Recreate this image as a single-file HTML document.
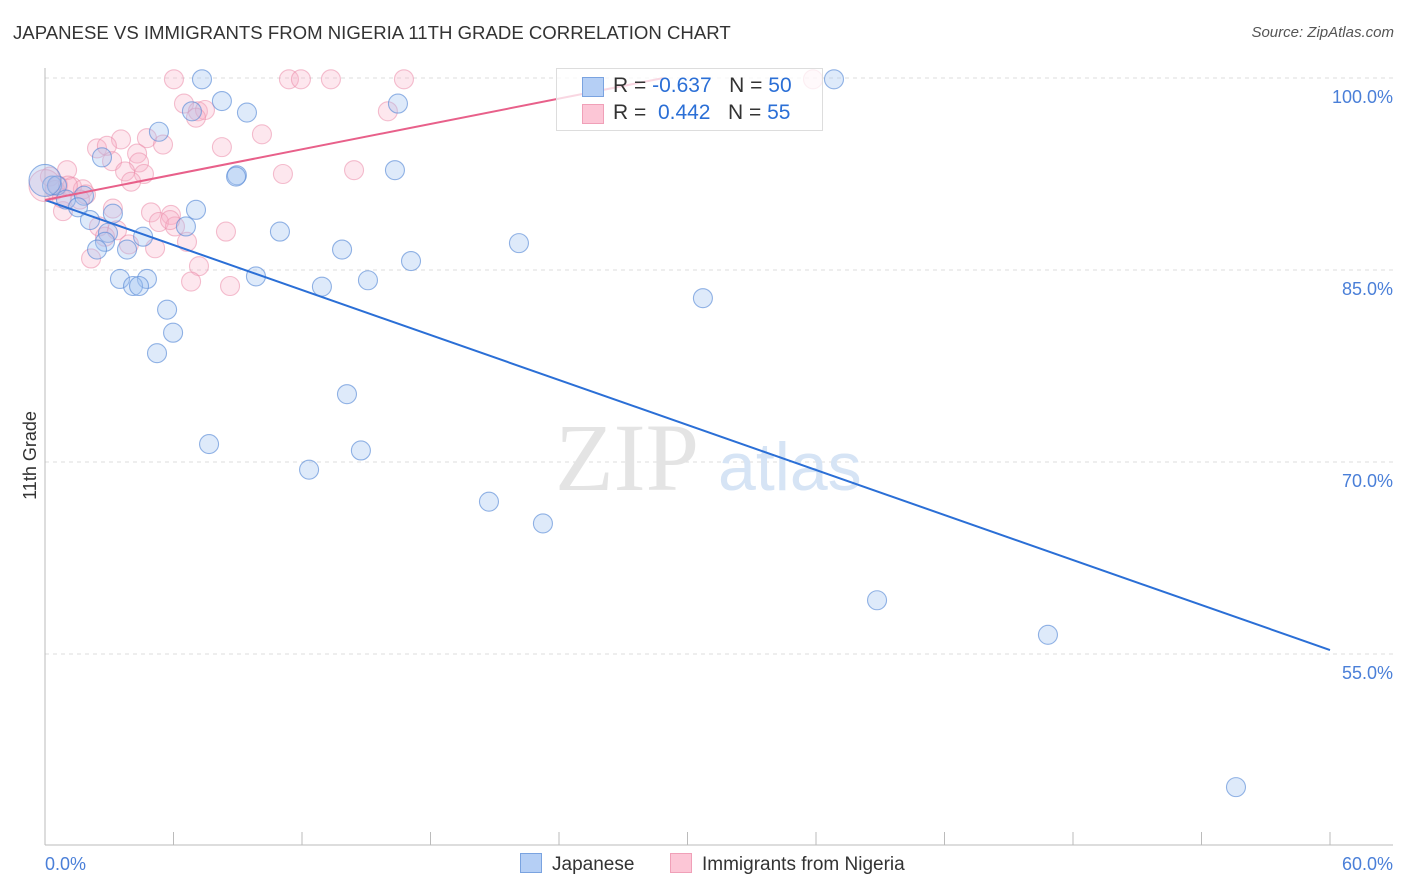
<!DOCTYPE html>
<html><head><meta charset="utf-8"><style>
body{margin:0;background:#fff;font-family:"Liberation Sans",sans-serif;}
#wrap{position:relative;width:1406px;height:892px;overflow:hidden;}
.t{position:absolute;white-space:nowrap;}
</style></head><body>
<div id="wrap">
<div class="t" style="left:13px;top:22px;font-size:18.6px;color:#333;">JAPANESE VS IMMIGRANTS FROM NIGERIA 11TH GRADE CORRELATION CHART</div>
<div class="t" style="right:12px;top:24px;font-size:15px;color:#555;font-style:italic;">Source: ZipAtlas.com</div>
<div class="t" style="left:-14px;top:445px;font-size:18px;color:#333;transform:rotate(-90deg);">11th Grade</div>
<svg id="svg" width="1406" height="892" style="position:absolute;left:0;top:0"></svg>
</div>
<script>
const yTicks=[100,85,70,55];
const yTickLabels=["100.0%","85.0%","70.0%","55.0%"];
const xLabels=["0.0%","60.0%"];
const japX=[7.33,36.84,8.26,16.48,6.86,9.43,5.32,2.66,16.34,8.96,8.92,0.33,0.56,0.98,1.82,1.54,3.17,7.05,2.10,6.58,10.97,2.94,4.58,2.80,22.13,2.43,3.83,13.87,17.09,3.50,4.76,9.85,15.08,4.11,4.39,12.93,30.72,5.70,5.98,5.23,14.10,7.66,14.75,12.33,20.73,23.25,38.85,46.83,55.61,0];
const japY=[99.9,99.9,98.2,98.0,97.4,97.3,95.8,93.8,92.8,92.4,92.3,91.6,91.6,90.5,90.8,89.9,89.4,89.7,88.9,88.4,88.0,87.9,87.6,87.2,87.1,86.6,86.6,86.6,85.7,84.3,84.3,84.5,84.2,83.75,83.75,83.7,82.8,81.9,80.1,78.5,75.3,71.4,70.9,69.4,66.9,65.2,59.2,56.5,44.6,92.0];
const nigX=[6.02,11.39,11.95,13.35,16.76,35.86,6.49,7.14,7.47,7.05,16.01,10.13,3.55,4.76,2.43,2.89,5.51,8.26,4.30,3.13,4.39,3.74,1.03,4.62,14.43,11.11,4.02,0.23,0.61,1.26,1.77,1.91,0.47,0.84,4.95,5.88,3.36,8.45,2.52,5.32,6.07,6.63,3.92,5.14,2.15,7.19,6.82,8.64,1.63,0,0.79,3.17,5.84,2.80,1.07];
const nigY=[99.9,99.9,99.9,99.9,99.9,99.9,98.0,97.4,97.5,96.9,97.4,95.6,95.2,95.3,94.5,94.7,94.8,94.6,94.1,93.5,93.4,92.7,92.8,92.5,92.8,92.5,91.9,92.3,91.6,91.5,91.3,90.9,91.25,89.6,89.5,89.3,88.1,88.0,88.4,88.75,88.4,87.2,87.0,86.7,85.9,85.3,84.1,83.75,90.5,91.6,90.6,89.8,88.9,87.6,91.6];
const japFit=[90.47,-0.586];
const nigFit=[90.47,0.33];
const sx=v=>45+v*1285/60, sy=v=>78+(100-v)*192/15;
const svg=document.getElementById('svg');const NS='http://www.w3.org/2000/svg';
function mk(t,a,p){const e=document.createElementNS(NS,t);for(const k in a)e.setAttribute(k,a[k]);(p||svg).appendChild(e);return e;}
yTicks.forEach((v,i)=>{const l=mk('line',{x1:45,x2:1393,y1:sy(v),y2:sy(v),stroke:'#ddd','stroke-dasharray':'4,4'});


const t=mk('text',{x:1393,y:sy(v)+25,'text-anchor':'end','font-size':18,fill:'#4a7fd8','font-family':'Liberation Sans'});t.textContent=yTickLabels[i];

});
mk('line',{x1:45,x2:45,y1:68,y2:845,stroke:'#bbb'});
mk('line',{x1:45,x2:1393,y1:845,y2:845,stroke:'#bbb'});
for(let i=0;i<=10;i++){const t=mk('line',{x1:sx(i*6),x2:sx(i*6),y1:832,y2:845,stroke:'#bbb'});

}
[[0,'start',45],[60,'end',1393]].forEach((d,i)=>{const t=mk('text',{x:d[2],y:870,'text-anchor':d[1],'font-size':18,fill:'#4a7fd8','font-family':'Liberation Sans'});t.textContent=xLabels[i];

});
const wm=mk('text',{x:555,y:490,'font-size':96,fill:'#e4e4e4','font-family':'Liberation Serif'});wm.textContent='ZIP';


const wm2=mk('text',{x:718,y:490,'font-size':68,fill:'#d6e4f5','font-family':'Liberation Sans'});wm2.textContent='atlas';


function pts(X,Y,fill,stroke,name){X.forEach((x,i)=>{const big=(x===0);const c=mk('circle',{cx:sx(x),cy:sy(Y[i]),r:big?16:9.5,fill:fill,stroke:stroke,'stroke-width':1.1});

});}
pts(nigX,nigY,'rgba(248,175,198,0.3)','rgba(235,140,170,0.55)','nigeria-point');
pts(japX,japY,'rgba(160,196,240,0.35)','rgba(90,140,215,0.65)','japanese-point');
const jl=mk('line',{x1:sx(0),y1:sy(japFit[0]),x2:sx(60),y2:sy(japFit[0]+japFit[1]*60),stroke:'#2b6fd6','stroke-width':2});


const xe=(100-nigFit[0])/nigFit[1];
const nl=mk('line',{x1:sx(0),y1:sy(nigFit[0]),x2:sx(xe),y2:sy(100),stroke:'#e8608a','stroke-width':2});


</script>
<div style="position:absolute;left:556px;top:68px;width:265px;height:61px;border:1px solid #ddd;background:rgba(255,255,255,0.75);font-size:21px;">
<div style="position:absolute;left:25px;top:8px;width:20px;height:18px;background:#b5cff5;border:1px solid #7aa3e0;"></div>
<div class="t" style="left:56px;top:5px;color:#333;">R = <span style="color:#2b6fd6">-0.637</span>&nbsp;&nbsp;&nbsp;N = <span style="color:#2b6fd6">50</span></div>
<div style="position:absolute;left:25px;top:35px;width:20px;height:18px;background:#fcc6d6;border:1px solid #f0a0b8;"></div>
<div class="t" style="left:56px;top:32px;color:#333;">R = &nbsp;<span style="color:#2b6fd6">0.442</span>&nbsp;&nbsp;&nbsp;N = <span style="color:#2b6fd6">55</span></div>
</div>
<div style="position:absolute;left:520px;top:853px;font-size:19px;color:#333;">
<span style="position:absolute;left:0;top:0;white-space:nowrap;"><span style="display:inline-block;width:20px;height:18px;background:#b5cff5;border:1px solid #7aa3e0;vertical-align:-3px;margin-right:10px;"></span>Japanese</span>
<span style="position:absolute;left:150px;top:0;white-space:nowrap;"><span style="display:inline-block;width:20px;height:18px;background:#fcc6d6;border:1px solid #f0a0b8;vertical-align:-3px;margin-right:10px;"></span>Immigrants from Nigeria</span>
</div>
</body></html>
